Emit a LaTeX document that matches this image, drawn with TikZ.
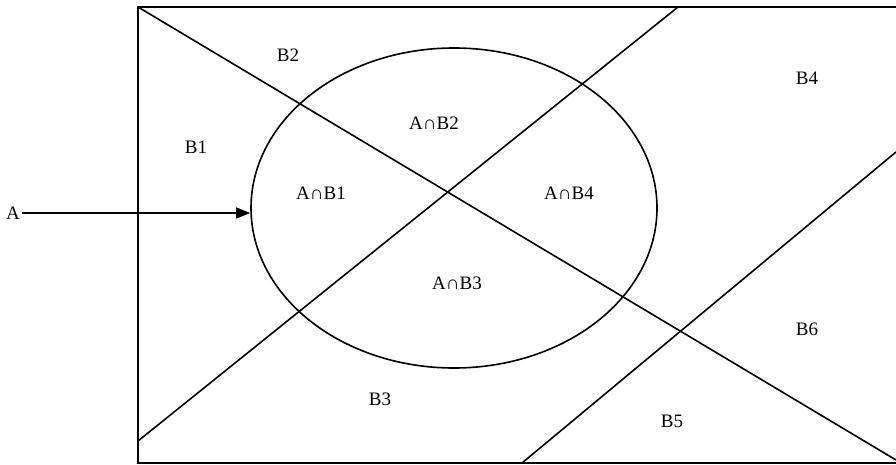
\documentclass[tikz,border=0pt]{standalone}
\usepackage{fontspec}
\setmainfont{Liberation Serif}
\usetikzlibrary{arrows.meta,shapes.geometric}
\tikzset{
  edge/.style={line width=1.6pt, black},
  lbl/.style={font=\fontsize{19}{22}\selectfont, inner sep=0pt}
}
\begin{document}
\begin{tikzpicture}[x=1pt,y=-1pt]
\useasboundingbox (0,0) rectangle (896,465);
% frame corners (the right side runs off the page)
\coordinate (tl) at (138,7);
\coordinate (tr) at (896,7);
\coordinate (bl) at (138,463);
\coordinate (br) at (896,463);
\draw[edge] (tr) -- (tl) -- (bl) -- (br);
% partition lines
\coordinate (d1s) at (138,7);
\coordinate (d1e) at (896,460);
\coordinate (d2s) at (138,441);
\coordinate (d2e) at (678,7);
\coordinate (d3s) at (522,463);
\coordinate (d3e) at (896,152);
\draw[edge] (d1s) -- (d1e);
\draw[edge] (d2s) -- (d2e);
\draw[edge] (d3s) -- (d3e);
% event A
\node[draw, line width=1.6pt, ellipse, minimum width=406pt, minimum height=320pt, inner sep=0pt] (ell) at (454,208) {};
\node[lbl] (a) at (13,213) {A};
\draw[edge, -{Triangle[length=14pt,width=11pt]}] (a.east) ++(2,0) coordinate (as) (as) -- (ell.west |- as);
% labels
\node[lbl] (b1) at (196,147) {B1};
\node[lbl] (b2) at (288,55) {B2};
\node[lbl] (b3) at (380,399) {B3};
\node[lbl] (b4) at (807,78) {B4};
\node[lbl] (b5) at (672,421) {B5};
\node[lbl] (b6) at (807,329) {B6};
\node[lbl] (ab1) at (321,193) {A∩B1};
\node[lbl] (ab2) at (434,123) {A∩B2};
\node[lbl] (ab3) at (457,283) {A∩B3};
\node[lbl] (ab4) at (569,193) {A∩B4};
\end{tikzpicture}
\end{document}
